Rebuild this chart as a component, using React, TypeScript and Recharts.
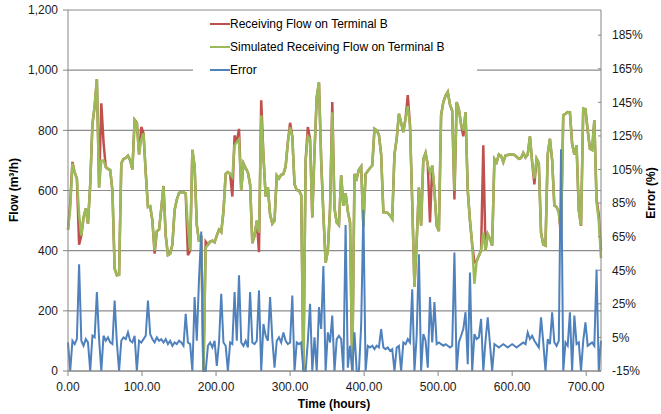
import { LineChart, Line, XAxis, YAxis, CartesianGrid } from 'recharts';

// hours since start, one reading every 3 h
const hours = [
  0, 3, 6, 9, 12, 15, 18, 21, 24, 27,
  30, 33, 36, 39, 42, 45, 48, 51, 54, 57,
  60, 63, 66, 69, 72, 75, 78, 81, 84, 87,
  90, 93, 96, 99, 102, 105, 108, 111, 114, 117,
  120, 123, 126, 129, 132, 135, 138, 141, 144, 147,
  150, 153, 156, 159, 162, 165, 168, 171, 174, 177,
  180, 183, 186, 189, 192, 195, 198, 201, 204, 207,
  210, 213, 216, 219, 222, 225, 228, 231, 234, 237,
  240, 243, 246, 249, 252, 255, 258, 261, 264, 267,
  270, 273, 276, 279, 282, 285, 288, 291, 294, 297,
  300, 303, 306, 309, 312, 315, 318, 321, 324, 327,
  330, 333, 336, 339, 342, 345, 348, 351, 354, 357,
  360, 363, 366, 369, 372, 375, 378, 381, 384, 387,
  390, 393, 396, 399, 402, 405, 408, 411, 414, 417,
  420, 423, 426, 429, 432, 435, 438, 441, 444, 447,
  450, 453, 456, 459, 462, 465, 468, 471, 474, 477,
  480, 483, 486, 489, 492, 495, 498, 501, 504, 507,
  510, 513, 516, 519, 522, 525, 528, 531, 534, 537,
  540, 543, 546, 549, 552, 555, 558, 561, 564, 567,
  570, 573, 576, 579, 582, 585, 588, 591, 594, 597,
  600, 603, 606, 609, 612, 615, 618, 621, 624, 627,
  630, 633, 636, 639, 642, 645, 648, 651, 654, 657,
  660, 663, 666, 669, 672, 675, 678, 681, 684, 687,
  690, 693, 696, 699, 702, 705, 708, 711, 714, 717,
  720,
];

// m3/h
const receivedFlow = [
  470, 560, 695, 660, 640, 420, 450, 510, 540, 490,
  620, 820, 880, 970, 610, 890, 760, 678, 672, 668,
  600, 340, 318, 320, 690, 705, 708, 716, 700, 670,
  835, 825, 720, 811, 790, 660, 545, 548, 500, 390,
  465, 470, 540, 615, 450, 385, 390, 420, 535, 570,
  592, 595, 594, 590, 385, 400, 735, 680, 485, 430,
  450, 0, 430, 420, 430, 433, 428, 450, 470, 462,
  530, 655, 661, 655, 580, 783, 760, 805, 600, 690,
  675, 660, 620, 425, 450, 500, 395, 900, 716, 580,
  610, 520, 490, 500, 650, 640, 652, 655, 680, 760,
  825, 780, 620, 602, 600, 585, 0, 700, 811, 770,
  510, 730, 910, 960, 700, 520, 360, 400, 540, 894,
  540, 494, 485, 650, 550, 590, 530, 494, 0, 655,
  640, 670, 680, 480, 655, 665, 675, 683, 805, 800,
  785, 720, 528, 528, 525, 517, 506, 720, 772, 855,
  825, 794, 840, 917, 817, 560, 280, 430, 610, 483,
  705, 725, 685, 494, 683, 600, 483, 465, 850, 894,
  915, 928, 885, 865, 570, 894, 870, 820, 780, 860,
  600, 500, 420, 361, 365, 383, 400, 750, 400, 455,
  440, 417, 705, 694, 720, 715, 694, 716, 718, 720,
  720, 718, 712, 705, 708, 725, 710, 720, 780, 694,
  620, 705, 690, 460, 420, 417, 720, 772, 700, 550,
  545, 528, 450, 850, 855, 861, 860, 755, 720, 750,
  533, 483, 872, 870, 800, 739, 735, 833, 570, 520,
  400,
];

const simulatedFlow = [
  470, 540, 690, 660, 640, 520, 450, 510, 540, 490,
  620, 820, 880, 970, 610, 700, 700, 678, 672, 668,
  600, 340, 318, 320, 690, 705, 708, 716, 700, 670,
  835, 825, 720, 770, 790, 660, 545, 548, 500, 400,
  465, 470, 540, 615, 450, 385, 390, 420, 535, 570,
  592, 595, 594, 590, 480, 400, 735, 680, 485, 430,
  450, 0, 410, 420, 430, 433, 428, 450, 470, 462,
  530, 655, 661, 655, 645, 750, 760, 770, 600, 690,
  675, 660, 620, 425, 450, 500, 460, 850, 716, 580,
  610, 520, 490, 500, 650, 640, 652, 655, 680, 760,
  810, 780, 620, 602, 600, 585, 0, 700, 780, 770,
  510, 730, 910, 960, 700, 520, 360, 400, 540, 860,
  540, 494, 485, 650, 550, 590, 530, 494, 0, 655,
  640, 670, 680, 480, 655, 665, 675, 683, 805, 800,
  785, 720, 528, 528, 525, 517, 506, 720, 772, 855,
  825, 794, 840, 880, 817, 560, 280, 430, 610, 483,
  705, 725, 685, 660, 683, 600, 483, 465, 850, 894,
  915, 928, 885, 865, 600, 894, 870, 820, 800, 860,
  600, 500, 420, 290, 365, 383, 400, 460, 400, 455,
  440, 417, 705, 694, 720, 715, 694, 716, 718, 720,
  720, 718, 712, 705, 708, 725, 710, 720, 780, 694,
  640, 705, 690, 460, 420, 417, 720, 772, 700, 550,
  545, 528, 460, 850, 855, 861, 860, 755, 720, 750,
  533, 485, 872, 870, 800, 739, 735, 833, 561, 500,
  375,
];

// percent
const errorPct = [
  2, -15, 3, 1, 4, 48.5, 3, 0, 4, 2,
  -15, 6, 5, 32, 4, -15, 6, 3, 5, 2,
  1, 27, 2, -15, 3, 5, 4, 8, 3, 2,
  6, -15, 3, 2, 4, 6, 27, 7, 4, 2,
  5, 3, 4, 2, 4, 1, 3, 0, 2, 1,
  3, 2, 0, 19, 2, 1, -15, 29, 3, 40,
  68, -15, -15, 0, 2, -1, 3, -12, 2, 31,
  2, 0, -15, 2, 1, 32, 3, 42, 2, 0,
  3, -1, 32, 2, 1, 3, 33, -15, 13, 6,
  3, 29, 4, -13, 3, 5, 2, 8, 3, 1,
  2, 30, -15, 2, 1, 2, -15, -15, 3, 25,
  -15, 5, -15, 23, 10, 47.5, -15, 8, 2, 18,
  -15, 4, 6, 4, -15, 72, -13, 0, -15, 8,
  -15, -15, 12, 81, -15, 0, -1, 0, -2, 0,
  -1, 10, -1, -2, -1, -3, -2, -15, -1, 0,
  -15, 2, 1, 4, 2, 33.6, -15, 6, 54.5, -15,
  7, 3, -13, 29, 2, 26, 1, 2, 1, 0,
  1, 0, -1, 0, 55.5, -15, 2, 6, 10, 20,
  -11, 43.6, -15, 7, 4, 5, 16, -15, 3, 17,
  1, -15, 1, 0, -1, 0, 1, 0, -1, 0,
  1, 0, -1, 0, 1, 2, 1, 8, 4, 6,
  3, 1, -1, 17, 2, -15, 4, 1, 20, 2,
  0, 3, 117, -15, 2, 0, 20, -15, 18, 1,
  2, -15, 3, 14, 0, 1, 2, 0, 45.5, -15,
  3,
];

const timeTicks = [0, 100, 200, 300, 400, 500, 600, 700];
const flowTicks = [0, 200, 400, 600, 800, 1000, 1200];
const errorTicks = [-15, 5, 25, 45, 65, 85, 105, 125, 145, 165, 185];

const data = hours.map((t, i) => ({
  t,
  received: receivedFlow[i],
  simulated: simulatedFlow[i],
  error: errorPct[i],
}));

const font = '"Liberation Sans", Arial, sans-serif';
const gray = '#868686';
const tickStyle = { fontSize: 12, fill: '#1a1a1a', fontFamily: font };

const legendItems = [
  { label: 'Receiving Flow on Terminal B', color: '#C0504D' },
  { label: 'Simulated Receiving Flow on Terminal B', color: '#9BBB59' },
  { label: 'Error', color: '#4F81BD' },
];

const title = { position: 'absolute' as const, fontSize: 12, fontWeight: 'bold' as const, whiteSpace: 'nowrap' as const, color: '#000' };

export default function App() {
  return (
    <div style={{ position: 'absolute', left: 0, top: 0, width: 661, height: 414, background: '#fff', fontFamily: font }}>
      <LineChart width={661} height={414} data={data} margin={{ top: 10, right: 0, bottom: 13, left: 8 }}>
        <CartesianGrid yAxisId="flow" vertical={false} stroke="#8c8c8c" strokeWidth={1.2} />
        <XAxis dataKey="t" type="number" domain={[0, 720]} ticks={timeTicks} interval={0}
          tickFormatter={(v: number) => v.toFixed(2)} tick={tickStyle} stroke={gray}
          tickSize={5} tickMargin={6} height={30} />
        <YAxis yAxisId="flow" domain={[0, 1200]} ticks={flowTicks} interval={0} width={60}
          tickFormatter={(v: number) => v.toLocaleString('en-US')} tick={tickStyle} stroke={gray}
          tickSize={5} tickMargin={5} />
        <YAxis yAxisId="err" orientation="right" domain={[-15, 200]} ticks={errorTicks} interval={0} width={60}
          tickFormatter={(v: number) => `${v}%`} tick={tickStyle} stroke={gray}
          tickSize={-3} tickMargin={14} />
        <Line yAxisId="flow" type="linear" dataKey="received" stroke="#C0504D" strokeWidth={2.5} dot={false} isAnimationActive={false} />
        <Line yAxisId="flow" type="linear" dataKey="simulated" stroke="#9BBB59" strokeWidth={2.5} dot={false} isAnimationActive={false} />
        <Line yAxisId="err" type="linear" dataKey="error" stroke="#4F81BD" strokeWidth={2} dot={false} isAnimationActive={false} />
      </LineChart>

      <div style={{ ...title, left: 14, top: 190, transform: 'translate(-50%, -50%) rotate(-90deg)' }}>Flow (m³/h)</div>
      <div style={{ ...title, left: 651, top: 193, transform: 'translate(-50%, -50%) rotate(-90deg)' }}>Error (%)</div>
      <div style={{ ...title, left: 334, top: 404, transform: 'translate(-50%, -50%)' }}>Time (hours)</div>

      <div style={{ position: 'absolute', left: 193, top: 13, width: 284, height: 66, background: '#fff' }}>
        {legendItems.map((item, i) => (
          <div key={item.label} style={{ position: 'absolute', left: 0, top: 4 + i * 23, height: 14, display: 'flex', alignItems: 'center' }}>
            <span style={{ display: 'inline-block', marginLeft: 17, width: 20, height: 2, background: item.color }} />
            <span style={{ fontSize: 12, color: '#000', lineHeight: '14px' }}>{item.label}</span>
          </div>
        ))}
      </div>
    </div>
  );
}
